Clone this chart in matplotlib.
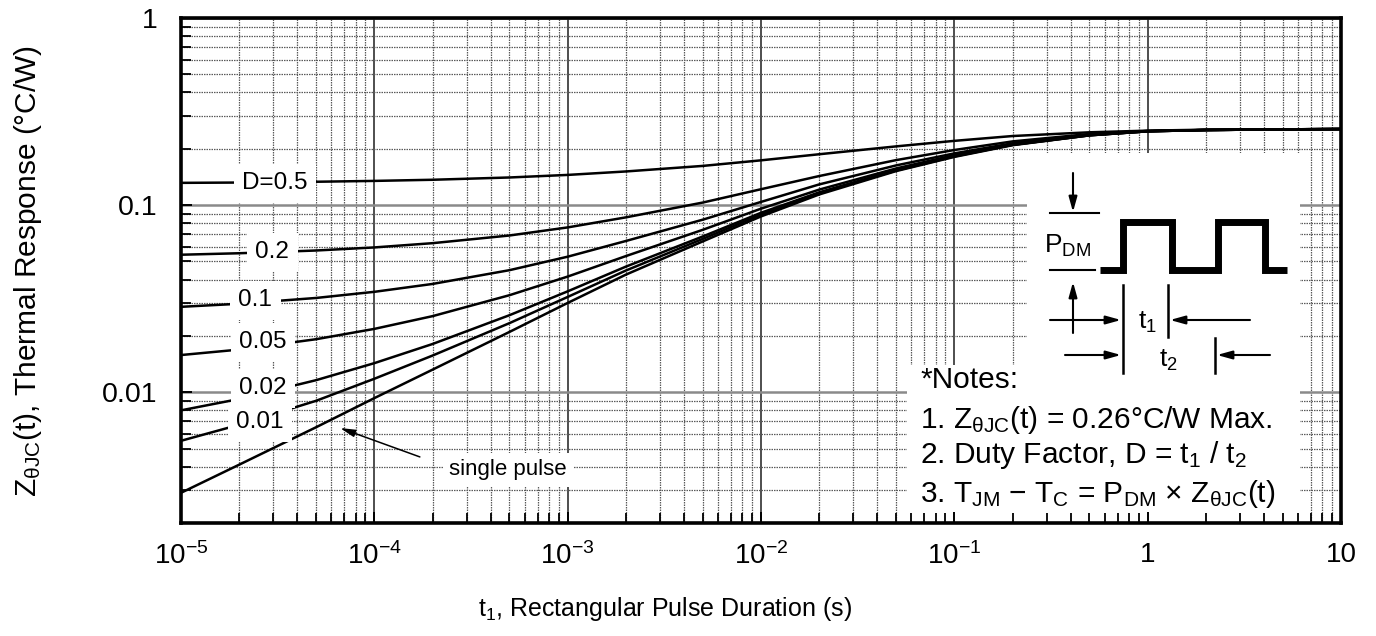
"""Transient thermal response curves (ZthJC vs pulse width) — datasheet style figure."""

import matplotlib

matplotlib.use("Agg")
import matplotlib.pyplot as plt
from matplotlib.patches import Rectangle
from matplotlib.ticker import FixedLocator, LogLocator, NullFormatter

plt.rcParams["font.family"] = ["Liberation Sans", "DejaVu Sans"]
plt.rcParams["mathtext.fontset"] = "custom"
plt.rcParams["mathtext.rm"] = "Liberation Sans"
plt.rcParams["mathtext.it"] = "Liberation Sans:italic"
plt.rcParams["mathtext.bf"] = "Liberation Sans:bold"

# ── data ────────────────────────────────────────────────────────────────────
t1 = [1e-5, 2e-5, 5e-5, 1e-4, 2e-4, 5e-4, 1e-3, 2e-3, 5e-3, 1e-2,
      2e-2, 5e-2, 0.1, 0.2, 0.5, 1, 2, 5, 10]

z_d05 = [0.1315, 0.132, 0.1333, 0.1347, 0.1366, 0.1405, 0.145, 0.1513, 0.162, 0.1735,
         0.187, 0.206, 0.2205, 0.234, 0.245, 0.250, 0.253, 0.254, 0.255]
z_d02 = [0.0543, 0.0553, 0.0572, 0.0594, 0.0626, 0.0688, 0.0760, 0.0860, 0.1032, 0.1216,
         0.143, 0.174, 0.197, 0.219, 0.240, 0.249, 0.252, 0.254, 0.255]
z_d01 = [0.0286, 0.0297, 0.0319, 0.0344, 0.0379, 0.0449, 0.0530, 0.0643, 0.0836, 0.104,
         0.129, 0.163, 0.189, 0.214, 0.238, 0.249, 0.252, 0.254, 0.255]
z_d005 = [0.0158, 0.0169, 0.0192, 0.0218, 0.0255, 0.0330, 0.0415, 0.0534, 0.0738, 0.0957,
          0.121, 0.157, 0.185, 0.212, 0.237, 0.248, 0.252, 0.254, 0.255]
z_d002 = [0.0080, 0.0092, 0.0116, 0.0143, 0.0181, 0.0258, 0.0346, 0.0469, 0.068, 0.091,
          0.117, 0.154, 0.183, 0.210, 0.236, 0.248, 0.252, 0.254, 0.255]
z_d001 = [0.0055, 0.0067, 0.0090, 0.0118, 0.0157, 0.0234, 0.0323, 0.0447, 0.066, 0.089,
          0.116, 0.153, 0.182, 0.210, 0.236, 0.248, 0.252, 0.254, 0.255]
z_single = [0.0029, 0.0041, 0.0065, 0.0093, 0.0132, 0.021, 0.0300, 0.0425, 0.064, 0.087,
            0.114, 0.152, 0.181, 0.209, 0.236, 0.248, 0.252, 0.254, 0.255]

curve_labels = ["D=0.5", "0.2", "0.1", "0.05", "0.02", "0.01"]
x_ticks = [1e-5, 1e-4, 1e-3, 1e-2, 1e-1, 1, 10]
x_ticklabels = [r"$\mathregular{10^{-5}}$", r"$\mathregular{10^{-4}}$",
                r"$\mathregular{10^{-3}}$", r"$\mathregular{10^{-2}}$",
                r"$\mathregular{10^{-1}}$", "1", "10"]
y_ticks = [0.01, 0.1, 1]
y_ticklabels = ["0.01", "0.1", "1"]

W, H = 1376, 636
fig = plt.figure(figsize=(W / 100, H / 100), dpi=100)
rect = [181 / W, 1 - 523 / H, 1160 / W, 505 / H]


def setup_log(a):
    a.set_xscale("log")
    a.set_yscale("log")
    a.set_xlim(1e-5, 10)
    a.set_ylim(0.002, 1)
    for axis in (a.xaxis, a.yaxis):
        axis.set_minor_locator(LogLocator(base=10, subs=range(2, 10), numticks=50))
        axis.set_minor_formatter(NullFormatter())


# ── main axes: grid, curves, labels ─────────────────────────────────────────
ax = fig.add_axes(rect)
setup_log(ax)
ax.set_axisbelow(True)
ax.xaxis.grid(which="major", color="#1e1e1e", lw=1.1)
ax.yaxis.grid(which="major", color="#8a8a8a", lw=1.8)
ax.grid(which="minor", color="#5a5a5a", lw=0.9, ls=(0, (1.2, 0.8)))
ax.xaxis.set_major_locator(FixedLocator(x_ticks))
ax.set_xticklabels(x_ticklabels)
ax.yaxis.set_major_locator(FixedLocator(y_ticks))
ax.set_yticklabels(y_ticklabels)
ax.tick_params(which="both", length=0)
ax.tick_params(axis="x", pad=14, labelsize=20)
ax.tick_params(axis="y", pad=17, labelsize=20.5)
for sp in ax.spines.values():
    sp.set_visible(False)

# white panels that hide the grid behind the notes and the pulse sketch
ax.add_patch(Rectangle(((907 - 181) / 1160, 0), (1300 - 907) / 1160, (523 - 365) / 505,
                       transform=ax.transAxes, fc="white", ec="none", zorder=1))
ax.add_patch(Rectangle(((1027 - 181) / 1160, (523 - 392) / 505), (1300 - 1027) / 1160,
                       (392 - 153) / 505, transform=ax.transAxes, fc="white", ec="none",
                       zorder=1))

for z in (z_d05, z_d02, z_d01, z_d005, z_d002, z_d001, z_single):
    ax.plot(t1, z, color="black", lw=1.8, zorder=2, solid_capstyle="butt")

label_pos = [(3.06e-5, 0.131), (2.96e-5, 0.0561), (2.42e-5, 0.0311),
             (2.65e-5, 0.01855), (2.65e-5, 0.01053), (2.56e-5, 0.00693)]
for txt, (lx, ly) in zip(curve_labels, label_pos):
    ax.text(lx, ly, txt, ha="center", va="center", fontsize=17.5, zorder=3,
            bbox=dict(boxstyle="square,pad=0.35", fc="white", ec="none"))

ax.text(4.92e-4, 0.00384, "single pulse", ha="center", va="center", fontsize=16, zorder=3,
        bbox=dict(boxstyle="square,pad=0.3", fc="white", ec="none"))
ax.annotate("", xy=(6.64e-5, 0.00644), xytext=(1.72e-4, 0.00451),
            arrowprops=dict(arrowstyle="-|>,head_length=0.9,head_width=0.22",
                            color="black", lw=1.1, shrinkA=0, shrinkB=0), zorder=3)

ax.set_xlabel(r"$\mathregular{t_1}$, Rectangular Pulse Duration (s)", fontsize=18)
ax.xaxis.set_label_coords((665 - 181) / 1160, -(595 - 523) / 505)
ax.set_ylabel(r"$\mathregular{Z_{θJC}}$(t), Thermal Response (°C/W)", fontsize=21.5)
ax.yaxis.set_label_coords(-(181 - 44) / 1160, 0.5)

# ── overlay axes: inward tick marks and heavy frame on top of panels ────────
axt = fig.add_axes(rect, zorder=1)
setup_log(axt)
axt.patch.set_visible(False)
axt.xaxis.set_major_locator(FixedLocator(x_ticks))
axt.yaxis.set_major_locator(FixedLocator(y_ticks))
axt.tick_params(which="both", direction="in", labelbottom=False, labelleft=False,
                top=False, right=False, color="black")
axt.tick_params(which="major", length=8, width=1.4)
axt.tick_params(which="minor", length=7, width=1.3)
for sp in axt.spines.values():
    sp.set_linewidth(2.6)

# ── pulse sketch + notes, drawn in pixel coordinates ────────────────────────
axd = fig.add_axes([0, 0, 1, 1], zorder=2)
axd.set_xlim(0, W)
axd.set_ylim(H, 0)
axd.axis("off")

axd.plot([1100, 1123, 1123, 1172, 1172, 1218, 1218, 1265, 1265, 1287],
         [270, 270, 222, 222, 270, 270, 222, 222, 270, 270],
         color="black", lw=5, solid_joinstyle="miter", solid_capstyle="butt")
axd.plot([1050, 1099], [213, 213], color="black", lw=1.5)
axd.plot([1050, 1095], [270, 270], color="black", lw=1.5)
axd.plot([1123, 1123], [285, 373], color="black", lw=1.8)
axd.plot([1168, 1168], [285, 337], color="black", lw=1.8)
axd.plot([1215, 1215], [338, 373], color="black", lw=1.8)

arrow = dict(arrowstyle="-|>,head_length=0.9,head_width=0.25", color="black", lw=1.5,
             shrinkA=0, shrinkB=0)
for tip, tail in [((1073, 212), (1073, 173)), ((1073, 282), (1073, 333)),
                  ((1121, 320), (1050, 320)), ((1170, 320), (1250, 320)),
                  ((1121, 355), (1065, 355)), ((1217, 355), (1270, 355))]:
    axd.annotate("", xy=tip, xytext=tail, arrowprops=arrow)

axd.text(1068, 246, r"$\mathregular{P_{DM}}$", ha="center", va="center", fontsize=19)
axd.text(1147, 322, r"$\mathregular{t_1}$", ha="center", va="center", fontsize=19)
axd.text(1168, 360, r"$\mathregular{t_2}$", ha="center", va="center", fontsize=19)

notes = ["*Notes:",
         r"1. $\mathregular{Z_{θJC}}$(t) = 0.26°C/W Max.",
         r"2. Duty Factor, D = $\mathregular{t_1}$ / $\mathregular{t_2}$",
         r"3. $\mathregular{T_{JM}}$ − $\mathregular{T_C}$ = $\mathregular{P_{DM}}$ × "
         r"$\mathregular{Z_{θJC}}$(t)"]
for line, base in zip(notes, [388, 428, 463, 502]):
    axd.text(920, base, line, ha="left", va="baseline", fontsize=21.5)

fig.savefig("out.png", dpi=100)
